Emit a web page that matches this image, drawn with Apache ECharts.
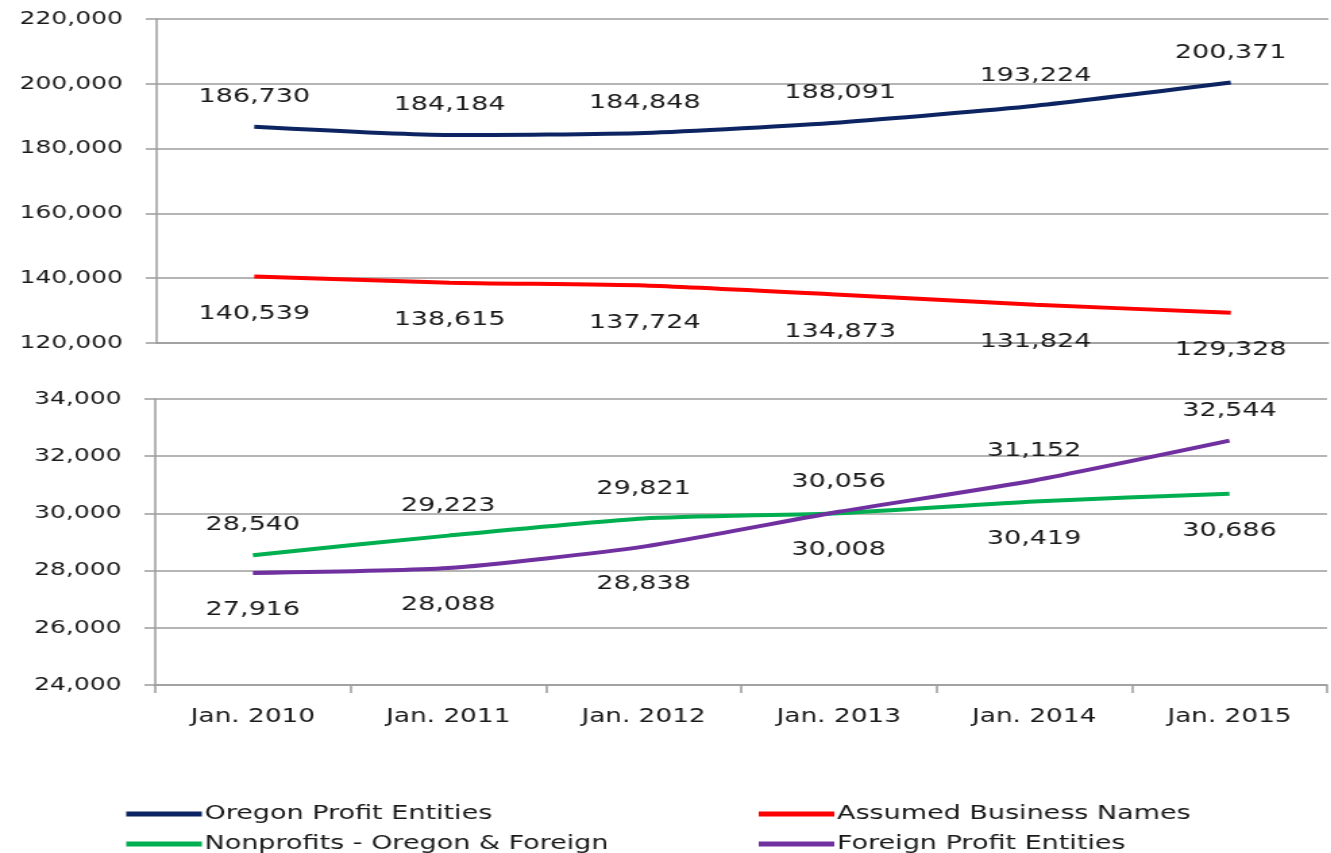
<!DOCTYPE html>
<html>
<head>
<meta charset="utf-8">
<script src="https://cdn.jsdelivr.net/npm/echarts@6/dist/echarts.min.js"></script>
<style>
  html, body { margin: 0; padding: 0; background: #fff; overflow: hidden; }
  /* the reference text is drawn horizontally stretched, so draw narrow and stretch */
  #chart { width: 986px; height: 853px; transform: scaleX(1.35); transform-origin: 0 0; }
</style>
</head>
<body>
<div id="chart"></div>
<script>
var categories = ["Jan. 2010", "Jan. 2011", "Jan. 2012", "Jan. 2013", "Jan. 2014", "Jan. 2015"];

var oregonProfit = [186730, 184184, 184848, 188091, 193224, 200371];
var assumedNames = [140539, 138615, 137724, 134873, 131824, 129328];
var nonprofits = [28540, 29223, 29821, 30008, 30419, 30686];
var foreignProfit = [27916, 28088, 28838, 30056, 31152, 32544];

// where each value label sits relative to its point
var nonprofitLabelPos = ["top", "top", "top", "bottom", "bottom", "bottom"];
var foreignLabelPos = ["bottom", "bottom", "bottom", "top", "top", "top"];

var font = "DejaVu Sans";
var gray = "#9c9c9c";

function withPositions(values, positions) {
    return values.map(function (v, i) {
        return { value: v, label: { position: positions[i], distance: positions[i] === "top" ? 20 : 27 } };
    });
}

function lineSeries(name, color, data, xi, labelPos) {
    return {
        name: name,
        type: "line",
        xAxisIndex: xi,
        yAxisIndex: xi,
        data: data,
        smooth: 0.2,
        showSymbol: true,
        symbol: "circle",
        symbolSize: 0.1,
        color: color,
        lineStyle: { width: 4, color: color },
        label: {
            show: true,
            position: labelPos,
            distance: labelPos === "top" ? 20 : 27,
            fontFamily: font,
            fontSize: 20,
            color: "#1a1a1a",
            formatter: function (p) { return p.value.toLocaleString("en-US"); }
        }
    };
}

function yAxis(gi, min, max, step) {
    return {
        type: "value",
        gridIndex: gi,
        min: min,
        max: max,
        interval: step,
        axisLine: { show: true, lineStyle: { color: gray, width: 1.5 } },
        axisTick: { show: true, length: 8, lineStyle: { color: gray, width: 1.5 } },
        splitLine: { show: true, lineStyle: { color: gray, width: 1.5 } },
        axisLabel: {
            margin: 25,
            fontFamily: font,
            fontSize: 18.5,
            color: "#1a1a1a",
            formatter: function (v) { return v.toLocaleString("en-US"); }
        }
    };
}

function legendItem(name, left, top) {
    return {
        orient: "horizontal", left: left, top: top,
        icon: "rect", itemWidth: 56, itemHeight: 5,
        textStyle: { fontFamily: font, fontSize: 20, color: "#1a1a1a", padding: [0, 0, 0, -3] },
        data: [name]
    };
}

var chart = echarts.init(document.getElementById("chart"));
chart.setOption({
    animation: false,
    backgroundColor: "#fff",
    grid: [
        { left: 116, right: 2, top: 19, height: 324 },
        { left: 115, right: 3, top: 399, height: 286 }
    ],
    xAxis: [
        {
            type: "category", gridIndex: 0, data: categories, boundaryGap: true,
            axisLine: { show: true, lineStyle: { color: gray, width: 1.5 } },
            axisTick: { show: false },
            axisLabel: { show: false }
        },
        {
            type: "category", gridIndex: 1, data: categories, boundaryGap: true,
            axisLine: { show: true, lineStyle: { color: gray, width: 1.5 } },
            axisTick: { show: true, length: 8, lineStyle: { color: gray, width: 1.5 } },
            axisLabel: { margin: 22, fontFamily: font, fontSize: 19.5, color: "#1a1a1a" }
        }
    ],
    yAxis: [
        yAxis(0, 120000, 220000, 20000),
        yAxis(1, 24000, 34000, 2000)
    ],
    legend: [
        legendItem("Oregon Profit Entities", 88.5, 799),
        legendItem("Nonprofits - Oregon & Foreign", 88.5, 829),
        legendItem("Assumed Business Names", 557, 799),
        legendItem("Foreign Profit Entities", 557, 829)
    ],
    series: [
        lineSeries("Oregon Profit Entities", "#0c2461", oregonProfit, 0, "top"),
        lineSeries("Assumed Business Names", "#ff0000", assumedNames, 0, "bottom"),
        lineSeries("Nonprofits - Oregon & Foreign", "#00b050", withPositions(nonprofits, nonprofitLabelPos), 1, "top"),
        lineSeries("Foreign Profit Entities", "#7030a0", withPositions(foreignProfit, foreignLabelPos), 1, "top")
    ]
});
</script>
</body>
</html>
